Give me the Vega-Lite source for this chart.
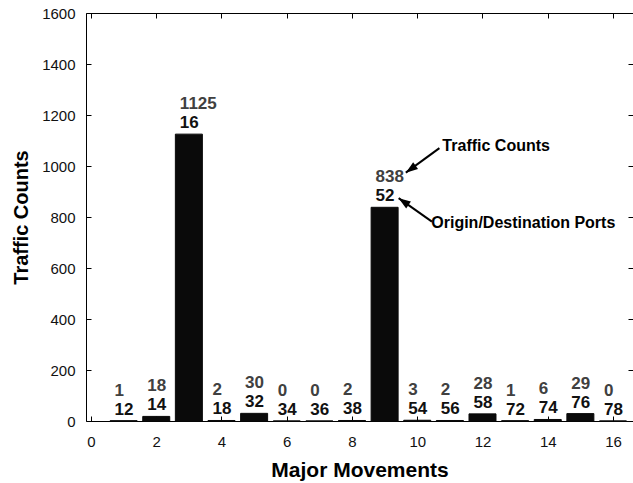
{
  "$schema": "https://vega.github.io/schema/vega-lite/v6.json",
  "width": 547,
  "height": 408,
  "autosize": {"type": "none"},
  "padding": {"left": 86, "top": 13, "right": 0, "bottom": 62},
  "config": {
    "view": {"stroke": null},
    "font": "Liberation Sans",
    "axis": {
      "grid": false,
      "domainColor": "#000",
      "tickColor": "#000",
      "labelColor": "#111",
      "titleColor": "#000",
      "labelFontSize": 15,
      "labelFont": "Liberation Sans",
      "titleFont": "Liberation Sans",
      "titleFontWeight": "bold",
      "tickSize": -5,
      "labelFlush": false,
      "labelOverlap": false,
      "format": "d"
    }
  },
  "datasets": {
    "movements": [
      {"movement": 1, "port": 12, "count": 1},
      {"movement": 2, "port": 14, "count": 18},
      {"movement": 3, "port": 16, "count": 1125},
      {"movement": 4, "port": 18, "count": 2},
      {"movement": 5, "port": 32, "count": 30},
      {"movement": 6, "port": 34, "count": 0},
      {"movement": 7, "port": 36, "count": 0},
      {"movement": 8, "port": 38, "count": 2},
      {"movement": 9, "port": 52, "count": 838},
      {"movement": 10, "port": 54, "count": 3},
      {"movement": 11, "port": 56, "count": 2},
      {"movement": 12, "port": 58, "count": 28},
      {"movement": 13, "port": 72, "count": 1},
      {"movement": 14, "port": 74, "count": 6},
      {"movement": 15, "port": 76, "count": 29},
      {"movement": 16, "port": 78, "count": 0}
    ],
    "callouts": [
      {"caption": "Traffic Counts", "from_x": 10.68, "from_y": 1070, "to_x": 9.65, "to_y": 974, "head": 234.6, "text_x": 10.77, "text_y": 1060},
      {"caption": "Origin/Destination Ports", "from_x": 10.45, "from_y": 782, "to_x": 9.43, "to_y": 874, "head": 304.5, "text_x": 10.43, "text_y": 757}
    ]
  },
  "resolve": {"axis": {"x": "independent", "y": "independent"}},
  "layer": [
    {
      "data": {"name": "movements"},
      "mark": {"type": "bar", "width": 27, "color": "#0a0a0a", "stroke": "#0a0a0a", "strokeWidth": 1},
      "encoding": {
        "x": {
          "field": "movement", "type": "quantitative",
          "scale": {"domain": [0, 16.46], "nice": false, "zero": false},
          "axis": {
            "orient": "bottom",
            "values": [0, 2, 4, 6, 8, 10, 12, 14, 16],
            "labelPadding": 18,
            "title": "Major Movements",
            "titleFontSize": 21,
            "titlePadding": 10
          }
        },
        "y": {
          "field": "count", "type": "quantitative",
          "scale": {"domain": [0, 1600], "nice": false},
          "axis": {
            "orient": "left",
            "values": [0, 200, 400, 600, 800, 1000, 1200, 1400, 1600],
            "labelPadding": 16,
            "title": "Traffic Counts",
            "titleFontSize": 20,
            "titlePadding": 10
          }
        }
      }
    },
    {
      "data": {"name": "movements"},
      "mark": {"type": "text", "align": "left", "baseline": "alphabetic", "dx": -9, "dy": -6, "fontSize": 17, "fontWeight": "bold", "color": "#111"},
      "encoding": {
        "x": {
          "field": "movement", "type": "quantitative",
          "axis": {"orient": "top", "values": [0, 2, 4, 6, 8, 10, 12, 14, 16], "labels": false, "title": null}
        },
        "y": {
          "field": "count", "type": "quantitative",
          "axis": {"orient": "right", "values": [0, 200, 400, 600, 800, 1000, 1200, 1400, 1600], "labels": false, "domain": false, "title": null}
        },
        "text": {"field": "port", "type": "nominal"}
      }
    },
    {
      "data": {"name": "movements"},
      "mark": {"type": "text", "align": "left", "baseline": "alphabetic", "dx": -9, "dy": -25, "fontSize": 17, "fontWeight": "bold", "color": "#404040"},
      "encoding": {
        "x": {"field": "movement", "type": "quantitative", "axis": null},
        "y": {"field": "count", "type": "quantitative", "axis": null},
        "text": {"field": "count", "type": "quantitative"}
      }
    },
    {
      "data": {"name": "callouts"},
      "mark": {"type": "rule", "color": "#000", "strokeWidth": 2},
      "encoding": {
        "x": {"field": "from_x", "type": "quantitative", "axis": null},
        "y": {"field": "from_y", "type": "quantitative", "axis": null},
        "x2": {"field": "to_x"},
        "y2": {"field": "to_y"}
      }
    },
    {
      "data": {"name": "callouts"},
      "mark": {"type": "point", "shape": "M0,0 L0.35,1 L-0.35,1 Z", "size": 576, "filled": true, "color": "#000", "opacity": 1, "strokeWidth": 0},
      "encoding": {
        "x": {"field": "to_x", "type": "quantitative", "axis": null},
        "y": {"field": "to_y", "type": "quantitative", "axis": null},
        "angle": {"field": "head", "type": "quantitative", "scale": null}
      }
    },
    {
      "data": {"name": "callouts"},
      "mark": {"type": "text", "align": "left", "baseline": "alphabetic", "fontSize": 16, "fontWeight": "bold", "color": "#000"},
      "encoding": {
        "x": {"field": "text_x", "type": "quantitative", "axis": null},
        "y": {"field": "text_y", "type": "quantitative", "axis": null},
        "text": {"field": "caption", "type": "nominal"}
      }
    }
  ]
}
